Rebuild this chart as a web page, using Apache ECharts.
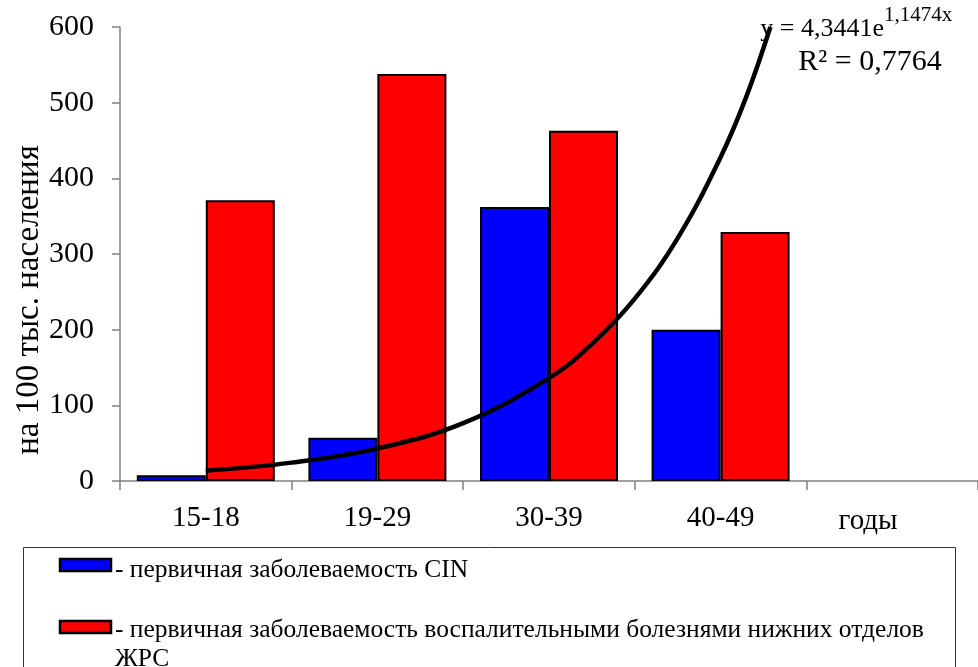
<!DOCTYPE html>
<html>
<head>
<meta charset="utf-8">
<script src="https://cdn.jsdelivr.net/npm/echarts@6/dist/echarts.min.js"></script>
<style>
html,body{margin:0;padding:0;background:#fff;}
#chart{width:978px;height:667px;}
</style>
</head>
<body>
<div id="chart"></div>
<script>
// ---- data ----
var categories = ['15-18', '19-29', '30-39', '40-49', ''];
var cinValues = [7.5, 57, 362, 200];
var inflValues = [371, 538, 463, 329];
var seriesNames = ['- первичная заболеваемость CIN',
                   '- первичная заболеваемость воспалительными болезнями нижних отделов\nЖРС'];
// trend line points (x = category position 1..)
var trendX = [1, 1.5, 2, 2.5, 3, 3.25, 3.5, 3.75, 4, 4.15, 4.29];
var trendY = [13.7, 24.3, 43, 76.5, 136, 181, 241, 321, 428, 508, 600];
var yTicks = [0, 100, 200, 300, 400, 500, 600];
var axisTitle = 'на 100 тыс. населения';
var xUnit = 'годы';
var eqMain = 'y = 4,3441e';
var eqSup = '1,1474x';
var eqR2 = 'R² = 0,7764';

var FONT = "'Liberation Serif','Times New Roman',serif";
var chart = echarts.init(document.getElementById('chart'), null, {renderer: 'canvas'});

var trendData = trendX.map(function (x, i) { return [x, trendY[i]]; });

var option = {
  backgroundColor: '#fff',
  animation: false,
  grid: {left: 120, top: 27, width: 865, height: 454, containLabel: false},
  xAxis: [{
    type: 'category',
    data: categories,
    axisLine: {lineStyle: {color: '#808080', width: 1.5}},
    axisTick: {show: true, length: 9, lineStyle: {color: '#808080', width: 1.5}},
    axisLabel: {fontFamily: FONT, fontSize: 29, color: '#000', margin: 23},
    splitLine: {show: false}
  }, {
    type: 'value',
    min: 0.5, max: 5.5,
    show: false
  }],
  yAxis: {
    type: 'value',
    min: yTicks[0], max: yTicks[yTicks.length - 1], interval: 100,
    axisLine: {show: true, lineStyle: {color: '#808080', width: 1.5}},
    axisTick: {show: true, length: 8, lineStyle: {color: '#808080', width: 1.5}},
    axisLabel: {fontFamily: FONT, fontSize: 30, color: '#000', margin: 26},
    splitLine: {show: false}
  },
  series: [{
    name: seriesNames[0],
    type: 'bar',
    data: cinValues,
    barWidth: 69,
    barGap: '0%',
    itemStyle: {color: '#0000ff', borderColor: '#000', borderWidth: 2}
  }, {
    name: seriesNames[1],
    type: 'bar',
    data: inflValues,
    barWidth: 69,
    barGap: '0%',
    itemStyle: {color: '#ff0000', borderColor: '#000', borderWidth: 2}
  }, {
    name: 'trend',
    type: 'line',
    xAxisIndex: 1,
    data: trendData,
    smooth: 0.4,
    showSymbol: false,
    lineStyle: {color: '#000', width: 4.5},
    z: 5
  }],
  graphic: [
    {type: 'text', x: 29, y: 300, rotation: Math.PI / 2,
     style: {text: axisTitle, fontFamily: FONT, fontSize: 33, fill: '#000', align: 'center', verticalAlign: 'middle'}},
    {type: 'text', x: 868, y: 521,
     style: {text: xUnit, fontFamily: FONT, fontSize: 29, fill: '#000', align: 'center', verticalAlign: 'middle'}},
    {type: 'text', x: 884, y: 29,
     style: {text: eqMain, fontFamily: FONT, fontSize: 26, fill: '#000', align: 'right', verticalAlign: 'middle'}},
    {type: 'text', x: 884, y: 15,
     style: {text: eqSup, fontFamily: FONT, fontSize: 21, fill: '#000', align: 'left', verticalAlign: 'middle'}},
    {type: 'text', x: 870, y: 62,
     style: {text: eqR2, fontFamily: FONT, fontSize: 30, fill: '#000', align: 'center', verticalAlign: 'middle'}},
    // legend box
    {type: 'rect', shape: {x: 23.5, y: 547.5, width: 932, height: 160},
     style: {fill: '#fff', stroke: '#333', lineWidth: 1}, z: 1},
    {type: 'rect', shape: {x: 60, y: 559, width: 51, height: 12},
     style: {fill: '#0000ff', stroke: '#000', lineWidth: 2.5}, z: 2},
    {type: 'text', x: 115, y: 570, z: 2,
     style: {text: seriesNames[0], fontFamily: FONT, fontSize: 25.5, fill: '#000', align: 'left', verticalAlign: 'middle'}},
    {type: 'rect', shape: {x: 60, y: 621, width: 51, height: 12},
     style: {fill: '#ff0000', stroke: '#000', lineWidth: 2.5}, z: 2},
    {type: 'text', x: 115, y: 616, z: 2,
     style: {text: seriesNames[1], fontFamily: FONT, fontSize: 25.5, fill: '#000', align: 'left', verticalAlign: 'top',
             lineHeight: 29}}
  ]
};
chart.setOption(option);
</script>
</body>
</html>
